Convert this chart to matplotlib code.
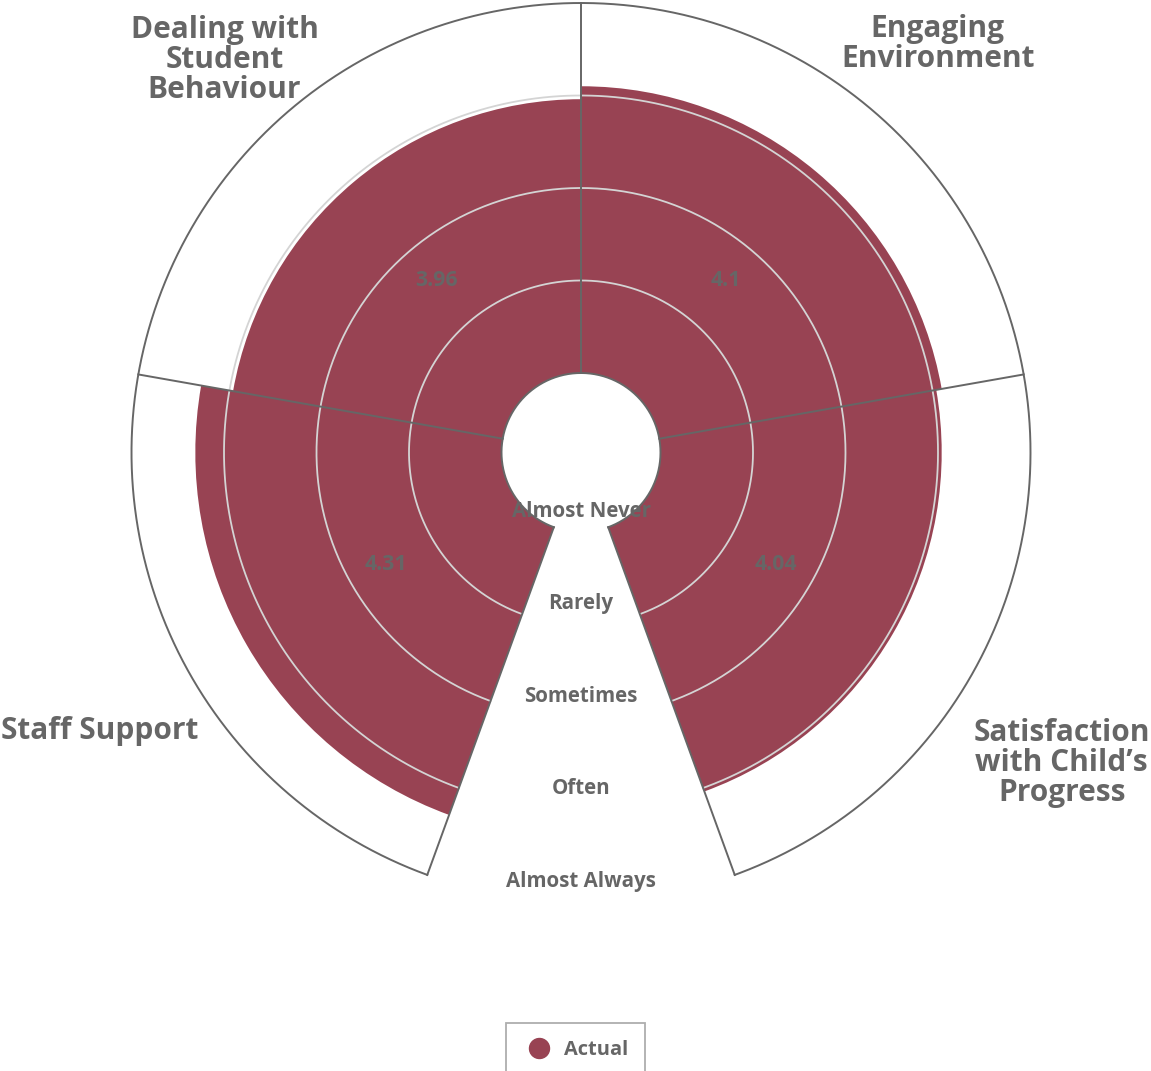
import numpy as np
import matplotlib
matplotlib.use('Agg')
import matplotlib.pyplot as plt
from matplotlib.lines import Line2D
from matplotlib.transforms import ScaledTranslation

plt.rcParams['font.family'] = ['Open Sans', 'DejaVu Sans']

# data (clockwise, starting at the left edge of the gap)
categories = ['Staff Support',
              'Dealing with\nStudent\nBehaviour',
              'Engaging\nEnvironment',
              'Satisfaction\nwith Child\u2019s\nProgress']
values = [4.31, 3.96, 4.1, 4.04]
levels = ['Almost Never', 'Rarely', 'Sometimes', 'Often', 'Almost Always']
level_values = [1, 2, 3, 4, 5]

maroon = '#984353'
grey = '#666666'

# label layout: (angle in degrees, radius in axis units)
label_pos = [(240.2, 6.14), (318.0, 5.90), (40.9, 6.03), (122.6, 6.31)]

start = np.deg2rad(200)
step = np.deg2rad(80)
theta = start + step * np.arange(len(values)) + step / 2

W, H = 1151, 1071
fig = plt.figure(figsize=(W / 100, H / 100), dpi=100)
ax = fig.add_axes([131.5 / W, 169 / H, 899 / W, 899 / H], projection='polar')
ax.set_theta_zero_location('N')
ax.set_theta_direction(-1)
ax.set_rlim(1, 5)
ax.set_rorigin(0.1405)
ax.axis('off')

# bars
ax.bar(theta, np.array(values) - 1, width=step, bottom=1,
       color=maroon, linewidth=0, zorder=2)

# pane: arcs and grid
th = np.linspace(start, start + 4 * step, 500)
for lv in level_values[1:-1]:
    ax.plot(th, np.full_like(th, lv), color='#d4d4d4', lw=1.3, zorder=3,
            clip_on=False)
for lv in (level_values[0], level_values[-1]):
    ax.plot(th, np.full_like(th, lv), color=grey, lw=1.4, zorder=4,
            clip_on=False)
for a in start + step * np.arange(len(values) + 1):
    ax.plot([a, a], [1, 5], color=grey, lw=1.4, zorder=4, clip_on=False)

# radial axis labels
for lv, lab in zip(level_values, levels):
    ax.text(np.pi, lv - 0.225, lab, ha='center', va='center', fontsize=14.8,
            fontweight='bold', color=grey, zorder=5)

# data labels
for t, v in zip(theta, values):
    ax.text(t, 2.57, f'{v:g}', ha='center', va='center', fontsize=15.3,
            fontweight='bold', color=grey, zorder=5)

# category labels
shift = ax.transData + ScaledTranslation(0, -3 / 100, fig.dpi_scale_trans)
for (a, r), cat in zip(label_pos, categories):
    ax.text(np.deg2rad(a), r, cat, ha='center', va='center', ma='center',
            fontsize=21.5, fontweight='bold', color=grey, linespacing=1.0,
            transform=shift)

# legend
handle = Line2D([], [], marker='o', ls='none', markersize=14.4,
                markerfacecolor=maroon, markeredgecolor=maroon)
leg = fig.legend(handles=[handle], labels=['Actual'], loc='upper center',
                 bbox_to_anchor=(575.5 / W, 1 - 1023 / H), frameon=True,
                 fancybox=False, edgecolor='#999999', borderpad=0.85,
                 borderaxespad=0, handlelength=1.6, handletextpad=0.45,
                 prop=dict(weight='bold', size=14.4), labelcolor=grey)
leg.get_frame().set_linewidth(1.3)

fig.savefig('out.png', dpi=100)
